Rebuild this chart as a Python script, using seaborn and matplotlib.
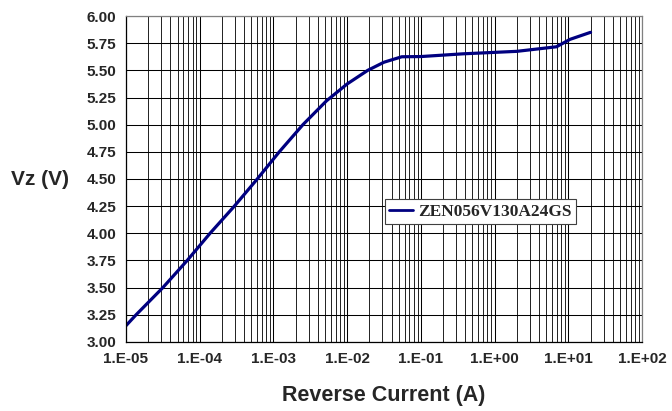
"""Zener reverse characteristic: Vz vs reverse current (log scale)."""

import numpy as np
import pandas as pd
import matplotlib
matplotlib.use("Agg")
import matplotlib.pyplot as plt
from matplotlib.ticker import LogLocator, FuncFormatter
import seaborn as sns

# values
part_name = "ZEN056V130A24GS"
reverse_current = [1e-5, 1.37e-5, 3.16e-5, 6.76e-5, 1.38e-4, 2.95e-4, 6.03e-4,
                   1.2e-3, 2.51e-3, 5.25e-3, 1e-2, 1.9e-2, 3.16e-2, 5.5e-2,
                   1e-1, 3.7e-1, 2.0, 6.9, 10.5, 20.0]
vz = [3.15, 3.25, 3.50, 3.75, 4.00, 4.25, 4.50, 4.75, 5.00, 5.22, 5.375,
      5.50, 5.575, 5.625, 5.627, 5.652, 5.675, 5.717, 5.785, 5.85]
y_ticks = [3.00, 3.25, 3.50, 3.75, 4.00, 4.25, 4.50, 4.75, 5.00, 5.25,
           5.50, 5.75, 6.00]

df = pd.DataFrame({"current": reverse_current, "vz": vz, "part": part_name})

sns.set_style("white")
plt.rcParams["font.family"] = ["Liberation Sans", "DejaVu Sans"]
plt.rcParams["font.weight"] = "bold"

fig = plt.figure(figsize=(6.72, 4.11), dpi=100)
ax = fig.add_axes([0.1875, 0.168, 0.768, 0.793])

sns.lineplot(data=df, x="current", y="vz", hue="part", palette=["#000080"],
             linewidth=2.3, ax=ax, sort=True)

ax.set_xscale("log")
ax.set_xlim(1e-5, 1e2)
ax.set_ylim(3.0, 6.0)

ax.xaxis.set_major_locator(LogLocator(base=10, numticks=20))
ax.xaxis.set_minor_locator(LogLocator(base=10, subs=np.arange(2, 10), numticks=20))
ax.xaxis.set_major_formatter(
    FuncFormatter(lambda v, _: f"1.E{int(round(np.log10(v))):+03d}"))
ax.set_yticks(y_ticks)
ax.yaxis.set_major_formatter(FuncFormatter(lambda v, _: f"{v:.2f}"))

ax.grid(True, which="major", axis="both", color="black", linewidth=0.75)
ax.grid(True, which="minor", axis="x", color="#202020", linewidth=0.7)
ax.set_axisbelow(True)

ax.tick_params(axis="both", which="major", direction="inout", length=6,
               width=0.8, color="black", labelsize=11, pad=4)
ax.tick_params(axis="x", which="minor", length=0)

for side in ["left", "bottom"]:
    ax.spines[side].set_color("black")
    ax.spines[side].set_linewidth(0.9)
for side in ["top", "right"]:
    ax.spines[side].set_color("#808080")
    ax.spines[side].set_linewidth(0.9)

ax.set_xlabel("Reverse Current (A)", fontsize=15.5, fontweight="bold",
              va="center")
ax.xaxis.set_label_coords(0.499, -0.165)
ax.set_ylabel("Vz (V)", fontsize=15, fontweight="bold", rotation=0,
              ha="center", va="center")
ax.yaxis.set_label_coords(-0.167, 0.497)

leg = ax.legend(loc="center", bbox_to_anchor=(0.687, 0.399), frameon=True,
                fancybox=False, framealpha=1, edgecolor="#404040",
                handlelength=1.4, handletextpad=0.3, borderpad=0.25,
                borderaxespad=0,
                prop={"family": "Liberation Serif", "weight": "bold", "size": 12.5})
leg.get_frame().set_linewidth(0.8)
for h in leg.get_lines():
    h.set_linewidth(2.0)

fig.savefig("out.png", dpi=100)
